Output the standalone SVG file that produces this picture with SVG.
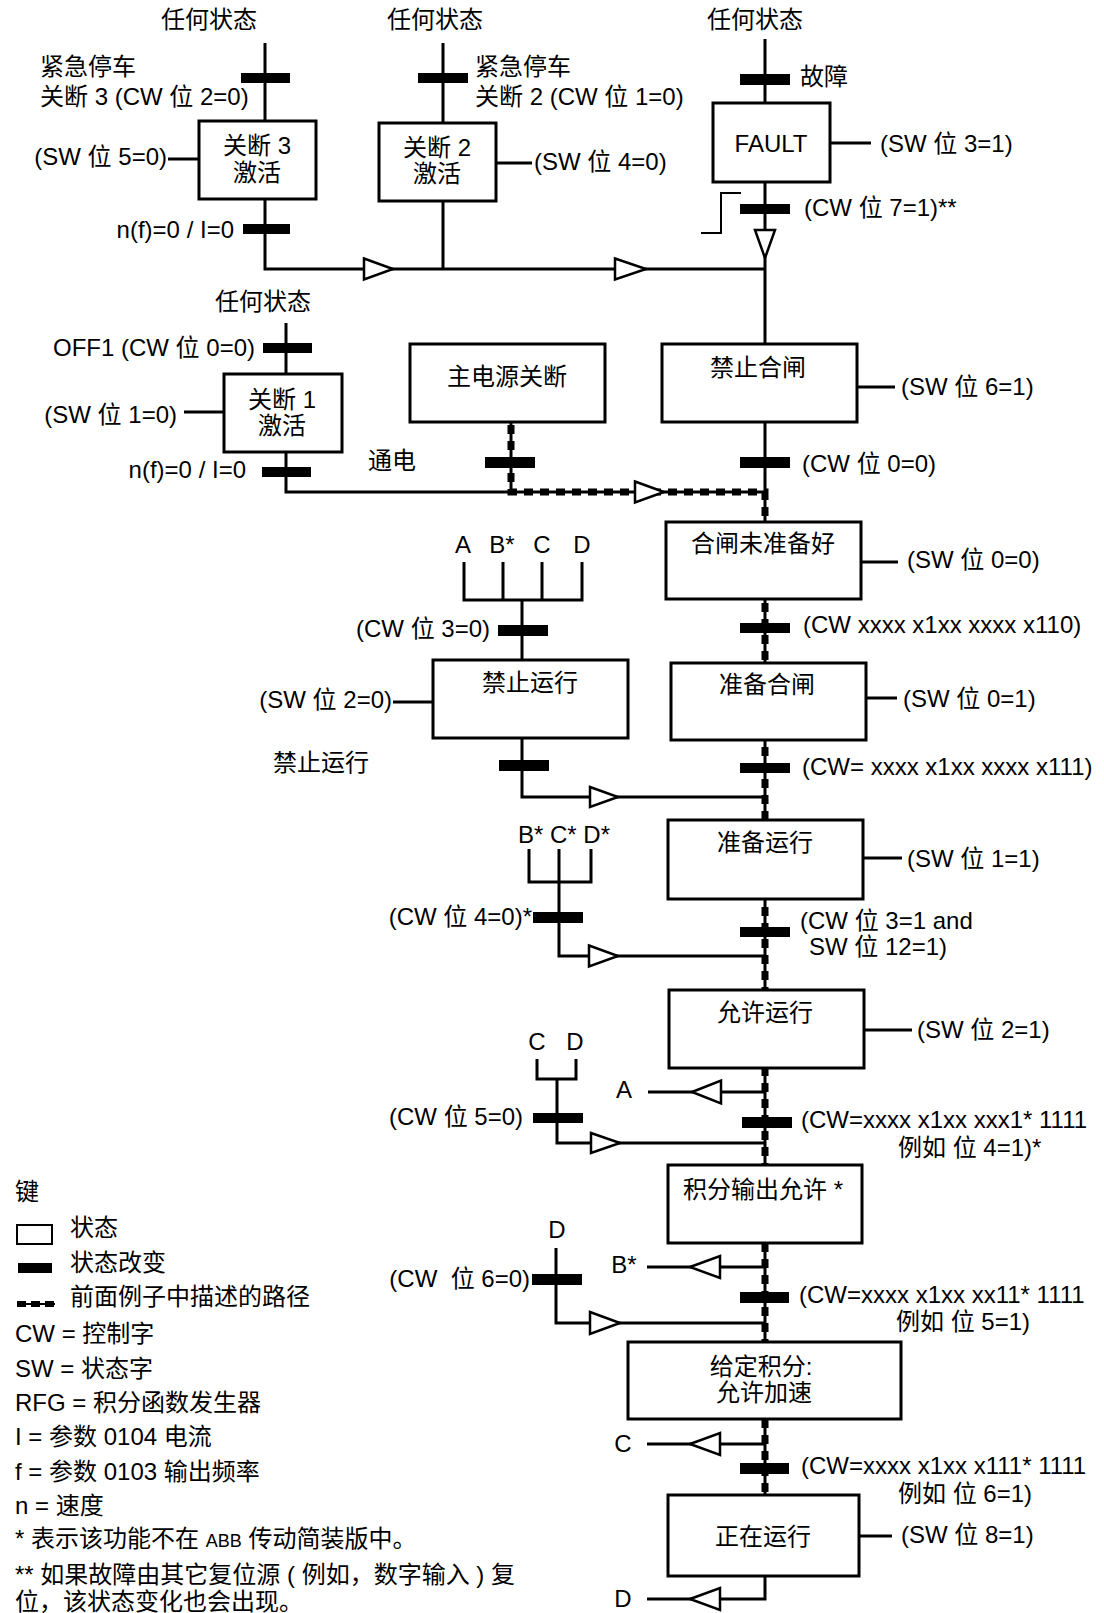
<svg xmlns="http://www.w3.org/2000/svg" width="1104" height="1613" viewBox="0 0 1104 1613">
<style>
text{font-family:'Liberation Sans','Noto Sans CJK SC',sans-serif;font-size:24px;fill:#000}
.c{text-anchor:middle}
.e{text-anchor:end}
.ln{stroke:#000;stroke-width:3;fill:none}
.thin{stroke:#000;stroke-width:2;fill:none}
.box{fill:#fff;stroke:#000;stroke-width:3}
.bar{fill:#000}
.arr{fill:#fff;stroke:#000;stroke-width:2.5}
.dsh{stroke:#000;stroke-width:7;stroke-dasharray:9 7;fill:none}
.sm{font-size:18px}
</style>
<rect width="1104" height="1613" fill="#fff"/>
<g id="connectors">
<path class="ln" d="M265,43V121M265,199V269H765M443,43V123M443,201V269M765,39V103M765,182V344M168,159H199M496,163H532M830,143H871M286,323V374M286,452V492H511M184,412H224M857,387H895M765,422V492"/>
<path class="thin" d="M701,233H721V193H741"/>
<path class="ln" d="M511,422V492H765V1495"/>
<path class="dsh" d="M511,425V492H765V1495"/>
<path class="ln" d="M861,562H898M464,562V600M503,562V600M542,562V600M582,562V600M462.5,600H583.5M522,600V660M393,702H433M522,738V797H765M866,698H897M529,849V882M559,849V882M591,849V882M527.5,882H592.5M559,882V956H765M863,858H902M537,1059V1079M576,1059V1079M535.5,1079H577.5M557,1079V1143H765M864,1030H912M648,1092H765M556,1248V1323H765M647,1267H765M647,1444H765M859,1536H892M765,1576V1599H647"/>
<polygon class="arr" points="364,258.5 393,269 364,279.5"/>
<polygon class="arr" points="615,258.5 646,269 615,279.5"/>
<polygon class="arr" points="755,230 775,230 765,258"/>
<polygon class="arr" points="635,481.5 664,492 635,502.5"/>
<polygon class="arr" points="590,787 618,797 590,807"/>
<polygon class="arr" points="589,945.5 618,956 589,966.5"/>
<polygon class="arr" points="591,1133 620,1143 591,1153"/>
<polygon class="arr" points="590,1312 620,1323 590,1334"/>
<polygon class="arr" points="692,1092 721,1080.5 721,1103.5"/>
<polygon class="arr" points="690,1267 720,1256 720,1278"/>
<polygon class="arr" points="690,1444 720,1433 720,1455"/>
<polygon class="arr" points="690,1599 720,1588 720,1610"/>
</g>
<g id="transitions">
<rect class="bar" x="241" y="73" width="49" height="10"/>
<rect class="bar" x="418" y="73" width="50" height="10"/>
<rect class="bar" x="740" y="74" width="50" height="11"/>
<rect class="bar" x="243" y="224" width="47" height="10"/>
<rect class="bar" x="740" y="204" width="50" height="10"/>
<rect class="bar" x="263" y="343" width="49" height="10"/>
<rect class="bar" x="262" y="467" width="49" height="10"/>
<rect class="bar" x="485" y="457" width="50" height="11"/>
<rect class="bar" x="740" y="457" width="50" height="11"/>
<rect class="bar" x="498" y="625" width="50" height="11"/>
<rect class="bar" x="740" y="623" width="50" height="10"/>
<rect class="bar" x="499" y="760" width="50" height="11"/>
<rect class="bar" x="740" y="763" width="50" height="10"/>
<rect class="bar" x="533" y="912" width="50" height="11"/>
<rect class="bar" x="740" y="927" width="50" height="10"/>
<rect class="bar" x="533" y="1113" width="50" height="10"/>
<rect class="bar" x="742" y="1117" width="50" height="11"/>
<rect class="bar" x="532" y="1274" width="50" height="11"/>
<rect class="bar" x="740" y="1292" width="49" height="11"/>
<rect class="bar" x="740" y="1463" width="49" height="11"/>
<text class="c" x="209" y="28">任何状态</text>
<text class="c" x="435" y="28">任何状态</text>
<text class="c" x="755" y="28">任何状态</text>
<text x="40" y="75">紧急停车</text>
<text x="40" y="105">关断 3 (CW 位 2=0)</text>
<text x="475" y="75">紧急停车</text>
<text x="475" y="105">关断 2 (CW 位 1=0)</text>
<text x="800" y="85">故障</text>
<text class="e" x="167" y="165">(SW 位 5=0)</text>
<text x="534" y="170">(SW 位 4=0)</text>
<text x="880" y="152">(SW 位 3=1)</text>
<text x="804" y="216">(CW 位 7=1)**</text>
<text class="e" x="234" y="238">n(f)=0 / I=0</text>
<text class="c" x="263" y="310">任何状态</text>
<text class="e" x="255" y="356">OFF1 (CW 位 0=0)</text>
<text class="e" x="177" y="423">(SW 位 1=0)</text>
<text class="e" x="246" y="478">n(f)=0 / I=0</text>
<text x="368" y="469">通电</text>
<text x="901" y="395">(SW 位 6=1)</text>
<text x="802" y="472">(CW 位 0=0)</text>
<text class="c" x="463" y="553">A</text>
<text class="c" x="502" y="553">B*</text>
<text class="c" x="542" y="553">C</text>
<text class="c" x="582" y="553">D</text>
<text x="907" y="568">(SW 位 0=0)</text>
<text class="e" x="490" y="637">(CW 位 3=0)</text>
<text x="803" y="633">(CW xxxx x1xx xxxx x110)</text>
<text class="e" x="392" y="708">(SW 位 2=0)</text>
<text x="903" y="707">(SW 位 0=1)</text>
<text x="273" y="771">禁止运行</text>
<text x="802" y="775">(CW= xxxx x1xx xxxx x111)</text>
<text x="518" y="843">B* C* D*</text>
<text x="907" y="867">(SW 位 1=1)</text>
<text class="e" x="532" y="925">(CW 位 4=0)*</text>
<text x="800" y="929">(CW 位 3=1 and</text>
<text x="809" y="955">SW 位 12=1)</text>
<text x="917" y="1038">(SW 位 2=1)</text>
<text class="c" x="537" y="1050">C</text>
<text class="c" x="575" y="1050">D</text>
<text class="c" x="624" y="1098">A</text>
<text class="e" x="523" y="1125">(CW 位 5=0)</text>
<text x="801" y="1128">(CW=xxxx x1xx xxx1* 1111</text>
<text x="898" y="1156">例如 位 4=1)*</text>
<text class="c" x="557" y="1238">D</text>
<text class="c" x="624" y="1273">B*</text>
<text class="e" x="530" y="1287" xml:space="preserve">(CW  位 6=0)</text>
<text x="799" y="1303">(CW=xxxx x1xx xx11* 1111</text>
<text x="896" y="1330">例如 位 5=1)</text>
<text class="c" x="623" y="1452">C</text>
<text x="801" y="1474">(CW=xxxx x1xx x111* 1111</text>
<text x="898" y="1502">例如 位 6=1)</text>
<text x="901" y="1543">(SW 位 8=1)</text>
<text class="c" x="623" y="1607">D</text>
</g>
<g id="off3">
<rect class="box" x="199" y="121" width="117" height="78"/>
<text class="c" x="257" y="154">关断 3</text>
<text class="c" x="257" y="181">激活</text>
</g>
<g id="off2">
<rect class="box" x="379" y="123" width="117" height="78"/>
<text class="c" x="437" y="156">关断 2</text>
<text class="c" x="437" y="182">激活</text>
</g>
<g id="fault">
<rect class="box" x="713" y="103" width="117" height="79"/>
<text class="c" x="771" y="152">FAULT</text>
</g>
<g id="off1">
<rect class="box" x="224" y="374" width="118" height="78"/>
<text class="c" x="282" y="408">关断 1</text>
<text class="c" x="282" y="434">激活</text>
</g>
<g id="mains-off">
<rect class="box" x="410" y="344" width="195" height="78"/>
<text class="c" x="507" y="385">主电源关断</text>
</g>
<g id="switch-on-inhibit">
<rect class="box" x="662" y="344" width="195" height="78"/>
<text class="c" x="758" y="376">禁止合闸</text>
</g>
<g id="not-ready">
<rect class="box" x="666" y="522" width="195" height="77"/>
<text class="c" x="763" y="552">合闸未准备好</text>
</g>
<g id="ready-to-switch-on">
<rect class="box" x="671" y="663" width="195" height="77"/>
<text class="c" x="767" y="693">准备合闸</text>
</g>
<g id="operation-inhibited">
<rect class="box" x="433" y="660" width="195" height="78"/>
<text class="c" x="530" y="691">禁止运行</text>
</g>
<g id="ready-to-operate">
<rect class="box" x="668" y="820" width="195" height="79"/>
<text class="c" x="765" y="851">准备运行</text>
</g>
<g id="operation-enabled">
<rect class="box" x="669" y="990" width="195" height="78"/>
<text class="c" x="765" y="1021">允许运行</text>
</g>
<g id="rfg-output-enabled">
<rect class="box" x="668" y="1165" width="194" height="78"/>
<text class="c" x="763" y="1198">积分输出允许 *</text>
</g>
<g id="rfg-accelerator-enabled">
<rect class="box" x="628" y="1342" width="273" height="77"/>
<text class="c" x="761" y="1375">给定积分:</text>
<text class="c" x="764" y="1401">允许加速</text>
</g>
<g id="operating">
<rect class="box" x="668" y="1495" width="191" height="81"/>
<text class="c" x="763" y="1545">正在运行</text>
</g>
<g id="legend">
<text x="15" y="1200">键</text>
<rect x="17" y="1225" width="35" height="19" fill="#fff" stroke="#000" stroke-width="2"/>
<text x="70" y="1236">状态</text>
<rect class="bar" x="18" y="1263" width="34" height="10"/>
<text x="70" y="1271">状态改变</text>
<path class="thin" d="M17,1304H55"/>
<path d="M17,1304H55" stroke="#000" stroke-width="6" stroke-dasharray="9 5"/>
<text x="70" y="1305">前面例子中描述的路径</text>
<text x="15" y="1342">CW = 控制字</text>
<text x="15" y="1377">SW = 状态字</text>
<text x="15" y="1411">RFG = 积分函数发生器</text>
<text x="15" y="1445">I = 参数 0104 电流</text>
<text x="15" y="1480">f = 参数 0103 输出频率</text>
<text x="15" y="1514">n = 速度</text>
<text x="15" y="1547">* 表示该功能不在 <tspan class="sm">ABB</tspan> 传动简装版中。</text>
<text x="15" y="1583">** 如果故障由其它复位源 ( 例如，数字输入 ) 复</text>
<text x="15" y="1610">位，该状态变化也会出现。</text>
</g>
</svg>
